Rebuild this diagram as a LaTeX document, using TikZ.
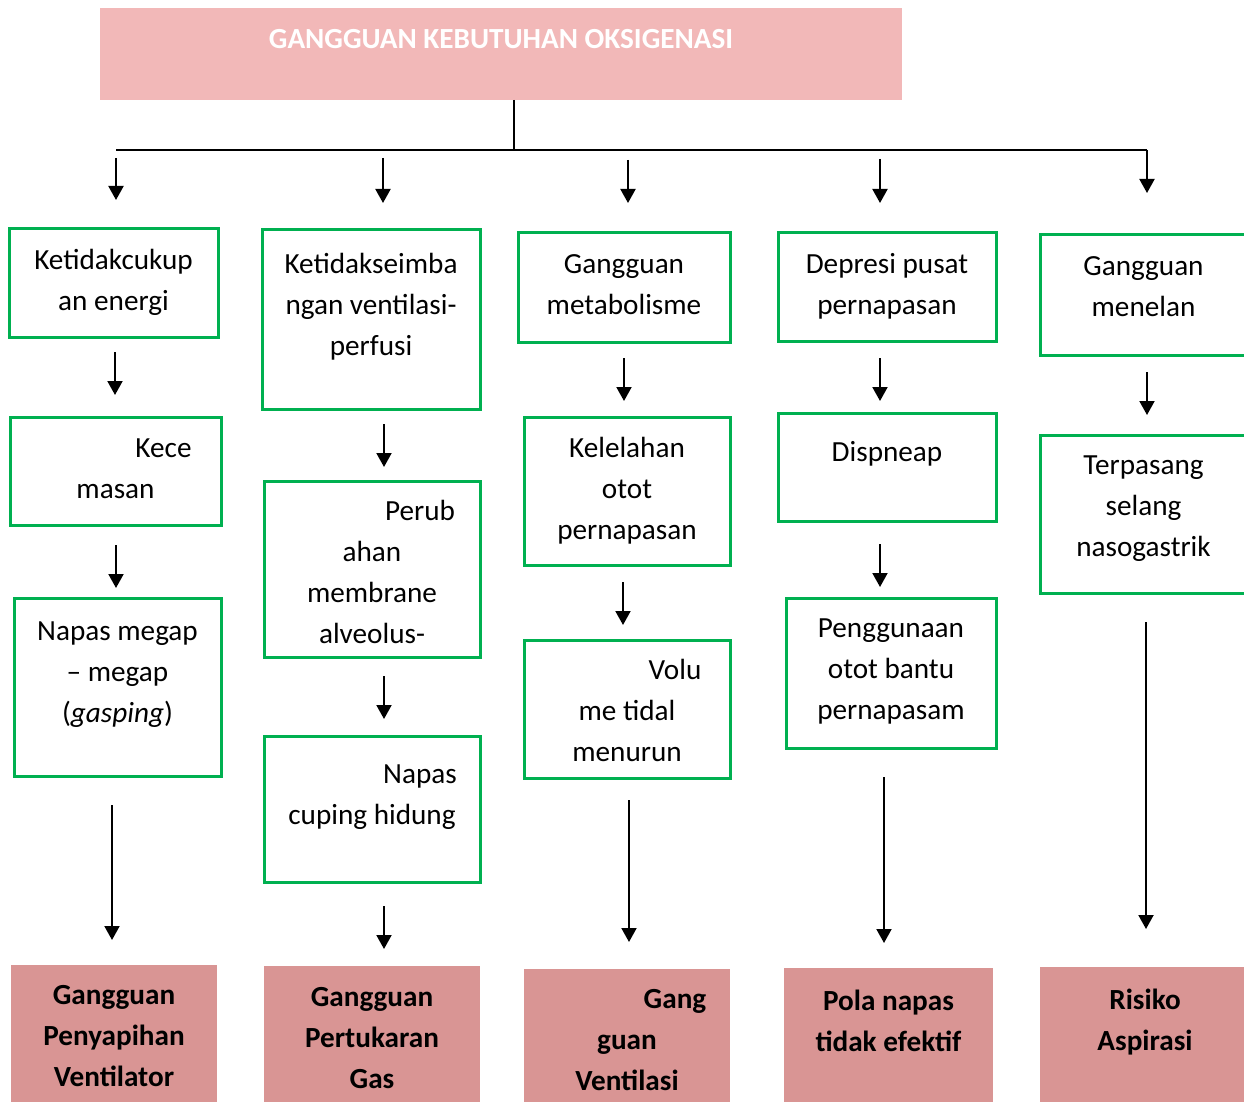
\documentclass[tikz,border=0pt]{standalone}
\usepackage{fontspec}
\setmainfont{Carlito}
\usetikzlibrary{arrows.meta}
\definecolor{hijau}{HTML}{00B050}
\definecolor{merahmuda}{HTML}{F2B8B8}
\definecolor{merahtua}{HTML}{D99594}
\tikzset{
  kotak/.style={draw=hijau, line width=1.5pt, anchor=north west, inner sep=0pt, outer sep=0pt},
  hasil/.style={fill=merahtua, anchor=north west, inner sep=0pt, outer sep=0pt},
  teks/.style={anchor=north, align=center, inner sep=0pt, font=\fontsize{14.6}{20.5}\selectfont},
  tebal/.style={teks, font=\fontsize{14.6}{20.5}\selectfont\bfseries},
  garis/.style={line width=0.9pt},
  panah/.style={line width=1pt, -{Triangle[length=7pt,width=7.5pt]}},
}
\newcommand{\geser}{\hspace*{48pt}}

\begin{document}
\begin{tikzpicture}[x=0.5pt, y=-0.5pt]
  \useasboundingbox (0,0) rectangle (1244,1102);
  \clip (0,0) rectangle (1244,1102);

  % judul
  \node[fill=merahmuda, anchor=north west, inner sep=0pt, outer sep=0pt, minimum width=401pt, minimum height=46pt] (judul) at (100,8) {};
  \node[tebal, text=white] (judult) at ([yshift=-5.5pt]judul.north) {\strut GANGGUAN KEBUTUHAN OKSIGENASI};

  % kolom 1
  \node[kotak, minimum width=104.5pt, minimum height=54pt] (k11) at (9,229) {};
  \node[teks] (k11t) at ([yshift=-5.5pt]k11.north) {\strut Ketidakcukup\\an energi};
  \node[kotak, minimum width=105.5pt, minimum height=54pt] (k12) at (10,417) {};
  \node[teks] (k12t) at ([yshift=-5.5pt]k12.north) {\strut\geser Kece\\masan};
  \node[kotak, minimum width=103.5pt, minimum height=89pt] (k13) at (14,598) {};
  \node[teks] (k13t) at ([yshift=-6.5pt]k13.north) {\strut Napas megap\\– megap\\(\textit{gasping})};
  \node[hasil, minimum width=103pt, minimum height=72.5pt] (k14) at (11,965) {};
  \node[tebal] (k14t) at ([yshift=-5pt]k14.north) {\strut Gangguan\\Penyapihan\\Ventilator};

  % kolom 2
  \node[kotak, minimum width=109pt, minimum height=89.5pt] (k21) at (262,230) {};
  \node[teks] (k21t) at ([yshift=-7pt]k21.north) {\strut Ketidakseimba\\ngan ventilasi-\\perfusi};
  \node[kotak, minimum width=108pt, minimum height=88pt] (k22) at (264,481) {};
  \node[teks] (k22t) at ([yshift=-5pt]k22.north) {\strut\geser Perub\\ahan\\membrane\\alveolus-};
  \node[kotak, minimum width=108pt, minimum height=73pt] (k23) at (264,736) {};
  \node[teks] (k23t) at ([yshift=-9pt]k23.north) {\strut\geser Napas\\cuping hidung};
  \node[hasil, minimum width=108pt, minimum height=72pt] (k24) at (264,966) {};
  \node[tebal] (k24t) at ([yshift=-5.5pt]k24.north) {\strut Gangguan\\Pertukaran\\Gas};

  % kolom 3
  \node[kotak, minimum width=106pt, minimum height=54.5pt] (k31) at (518,233) {};
  \node[teks] (k31t) at ([yshift=-5.5pt]k31.north) {\strut Gangguan\\metabolisme};
  \node[kotak, minimum width=103pt, minimum height=74pt] (k32) at (524,417) {};
  \node[teks] (k32t) at ([yshift=-5.5pt]k32.north) {\strut Kelelahan\\otot\\pernapasan};
  \node[kotak, minimum width=103pt, minimum height=69pt] (k33) at (524,640) {};
  \node[teks] (k33t) at ([yshift=-5pt]k33.north) {\strut\geser Volu\\me tidal\\menurun};
  \node[hasil, minimum width=103pt, minimum height=70.5pt] (k34) at (524,969) {};
  \node[tebal] (k34t) at ([yshift=-5pt]k34.north) {\strut\geser Gang\\guan\\Ventilasi};

  % kolom 4
  \node[kotak, minimum width=109pt, minimum height=54pt] (k41) at (778,233) {};
  \node[teks] (k41t) at ([yshift=-5.5pt]k41.north) {\strut Depresi pusat\\pernapasan};
  \node[kotak, minimum width=109pt, minimum height=54pt] (k42) at (778,413) {};
  \node[teks] (k42t) at ([yshift=-9.5pt]k42.north) {\strut Dispneap};
  \node[kotak, minimum width=105pt, minimum height=75pt] (k43) at (786,598) {};
  \node[teks] (k43t) at ([yshift=-5pt]k43.north) {\strut Penggunaan\\otot bantu\\pernapasam};
  \node[hasil, minimum width=104.5pt, minimum height=71pt] (k44) at (784,968) {};
  \node[tebal] (k44t) at ([yshift=-6.5pt]k44.north) {\strut Pola napas\\tidak efektif};

  % kolom 5
  \node[kotak, minimum width=103.5pt, minimum height=60pt] (k51) at (1040,235) {};
  \node[teks] (k51t) at ([yshift=-5.5pt]k51.north) {\strut Gangguan\\menelan};
  \node[kotak, minimum width=103.5pt, minimum height=79pt] (k52) at (1040,435) {};
  \node[teks] (k52t) at ([yshift=-5pt]k52.north) {\strut Terpasang\\selang\\nasogastrik};
  \node[hasil, minimum width=105pt, minimum height=71.5pt] (k53) at (1040,967) {};
  \node[tebal] (k53t) at ([yshift=-6.5pt]k53.north) {\strut Risiko\\Aspirasi};

  % cabang dari judul
  \draw[garis] ([xshift=6.5pt]judul.south) -- ++(0,50) coordinate (simpang);
  \coordinate (t1) at ([xshift=1.25pt]k11.north);
  \coordinate (t2) at ([xshift=6pt]k21.north);
  \coordinate (t3) at ([xshift=2pt]k31.north);
  \coordinate (t4) at ([xshift=-3.5pt]k41.north);
  \coordinate (t5) at ([xshift=1.75pt]k51.north);
  \draw[garis] (t1 |- simpang) -- (t5 |- simpang);
  \draw[panah, shorten <=4pt] (t1 |- simpang) -- ++(0,50);
  \draw[panah, shorten <=4pt] (t2 |- simpang) -- ++(0,53);
  \draw[panah, shorten <=5pt] (t3 |- simpang) -- ++(0,53);
  \draw[panah, shorten <=4.5pt] (t4 |- simpang) -- ++(0,53);
  \draw[panah] (t5 |- simpang) -- ++(0,43);

  % panah tiap kolom
  \draw[panah] ([xshift=0.75pt,yshift=-7.5pt]k11.south) -- ++(0,43);
  \draw[panah] ([xshift=0.25pt,yshift=-10pt]k12.south) -- ++(0,43);
  \draw[panah] ([xshift=-2.75pt,yshift=-14.5pt]k13.south) -- ++(0,135);
  \draw[panah] ([xshift=6.5pt,yshift=-7.5pt]k21.south) -- ++(0,43);
  \draw[panah] ([xshift=6pt,yshift=-9.5pt]k22.south) -- ++(0,43);
  \draw[panah] ([xshift=6pt,yshift=-12pt]k23.south) -- ++(0,43);
  \draw[panah] ([yshift=-8pt]k31.south) -- ++(0,43);
  \draw[panah] ([xshift=-2pt,yshift=-8.5pt]k32.south) -- ++(0,43);
  \draw[panah] ([xshift=1pt,yshift=-11pt]k33.south) -- ++(0,142);
  \draw[panah] ([xshift=-3.5pt,yshift=-8.5pt]k41.south) -- ++(0,43);
  \draw[panah] ([xshift=-3.5pt,yshift=-11.5pt]k42.south) -- ++(0,43);
  \draw[panah] ([xshift=-3.5pt,yshift=-14.5pt]k43.south) -- ++(0,166);
  \draw[panah] ([xshift=1.75pt,yshift=-8.5pt]k51.south) -- ++(0,43);
  \draw[panah] ([xshift=1.25pt,yshift=-14.5pt]k52.south) -- ++(0,307);
\end{tikzpicture}
\end{document}
